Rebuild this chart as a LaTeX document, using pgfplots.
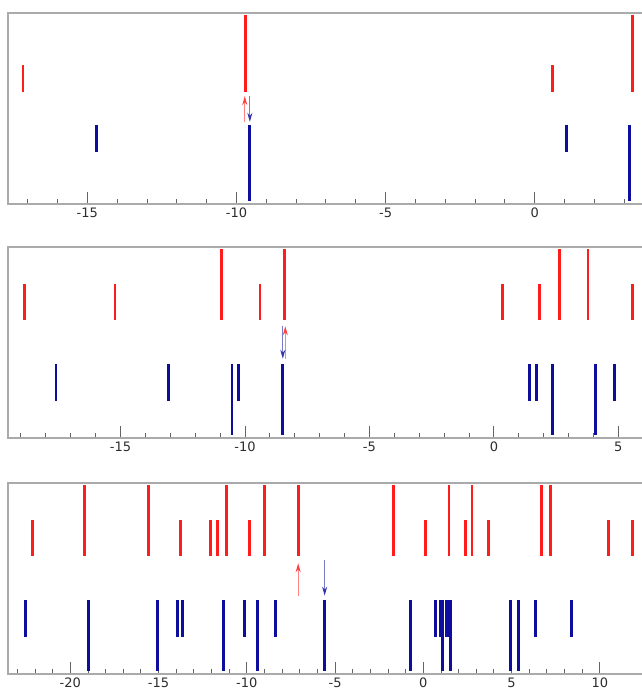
\documentclass[border=0pt]{standalone}
\usepackage{pgfplots}
\pgfplotsset{compat=1.18}
\usepackage{fontspec}
\setmainfont{DejaVu Sans}
\usetikzlibrary{arrows.meta}
\definecolor{barred}{RGB}{255,28,28}
\definecolor{barblue}{RGB}{14,14,158}
\definecolor{framegray}{RGB}{170,170,170}
\definecolor{tickgray}{RGB}{100,100,100}
\definecolor{labgray}{RGB}{45,45,45}
\pgfplotsset{
 panel/.style={
  scale only axis, width=634pt, height=191pt,
  ymin=0, ymax=1, ytick=\empty,
  axis line style={draw=none},
  xtick distance=5, minor x tick num=4,
  tick align=inside, xtick pos=bottom,
  major tick length=12pt, minor tick length=5pt,
  every tick/.style={tickgray, line width=0.9pt},
  tick label style={font=\fontsize{13}{15}\selectfont, text=labgray},
  /pgf/number format/assume math mode=true,
  clip=false,
 },
 vbar/.style={line width=2.8pt, -, quiver={u=0, v=\thisrow{y1}-\thisrow{y0}}},
 uparrow/.style={barred!55, line width=1.2pt, -{Stealth[length=9pt,width=5pt,color=barred!85]}, quiver={u=0, v=\thisrow{y1}-\thisrow{y0}}},
 downarrow/.style={barblue!55, line width=1.2pt, -{Stealth[length=9pt,width=5pt,color=barblue!85]}, quiver={u=0, v=\thisrow{y1}-\thisrow{y0}}},
}
\newcommand{\frameit}{\draw[framegray, line width=1.8pt] (rel axis cs:1,1) -- (rel axis cs:0,1) -- (rel axis cs:0,0) -- (rel axis cs:1,0);}
\begin{document}
\begin{tikzpicture}
\useasboundingbox (0,0) rectangle (642pt,691pt);
% ---------------- panel 1
\begin{axis}[panel, at={(8pt,487pt)}, anchor=south west, xmin=-17.66, xmax=3.6]
\frameit
\addplot[barred, vbar] table[x=x, y=y0] {
x y0 y1
-17.16 0.584 0.726
-9.70 0.584 0.988
0.59 0.584 0.726
3.27 0.584 0.988
};
\addplot[barblue, vbar] table[x=x, y=y0] {
x y0 y1
-14.68 0.414 0.271
-9.55 0.414 0.014
1.08 0.414 0.271
3.17 0.414 0.014
};
\addplot[uparrow] table[x=x, y=y0] {
x y0 y1
-9.72 0.43 0.565
};
\addplot[downarrow] table[x=x, y=y0] {
x y0 y1
-9.55 0.565 0.43
};
\end{axis}
% ---------------- panel 2
\begin{axis}[panel, at={(8pt,253pt)}, anchor=south west, xmin=-19.52, xmax=5.95]
\frameit
\addplot[barred, vbar] table[x=x, y=y0] {
x y0 y1
-18.85 0.618 0.808
-15.22 0.618 0.808
-10.93 0.618 0.988
-9.40 0.618 0.808
-8.40 0.618 0.988
0.35 0.618 0.808
1.84 0.618 0.808
2.62 0.618 0.988
3.78 0.618 0.988
5.56 0.618 0.808
};
\addplot[barblue, vbar] table[x=x, y=y0] {
x y0 y1
-17.59 0.387 0.193
-13.07 0.387 0.193
-10.52 0.387 0.016
-10.27 0.387 0.193
-8.48 0.387 0.016
1.43 0.387 0.193
1.70 0.387 0.193
2.37 0.387 0.016
4.08 0.387 0.016
4.84 0.387 0.193
};
\addplot[uparrow] table[x=x, y=y0] {
x y0 y1
-8.38 0.415 0.585
};
\addplot[downarrow] table[x=x, y=y0] {
x y0 y1
-8.48 0.585 0.415
};
\end{axis}
% ---------------- panel 3
\begin{axis}[panel, at={(8pt,17pt)}, anchor=south west, xmin=-23.53, xmax=12.39]
\frameit
\addplot[barred, vbar] table[x=x, y=y0] {
x y0 y1
-22.15 0.618 0.808
-19.18 0.618 0.988
-15.58 0.618 0.988
-13.77 0.618 0.808
-12.06 0.618 0.808
-11.66 0.618 0.808
-11.13 0.618 0.988
-9.83 0.618 0.808
-9.02 0.618 0.988
-7.09 0.618 0.988
-1.69 0.618 0.988
0.12 0.618 0.808
1.46 0.618 0.988
2.41 0.618 0.808
2.76 0.618 0.988
3.71 0.618 0.808
6.70 0.618 0.988
7.22 0.618 0.988
10.49 0.618 0.808
11.85 0.618 0.808
};
\addplot[barblue, vbar] table[x=x, y=y0] {
x y0 y1
-22.56 0.387 0.193
-18.97 0.387 0.016
-15.07 0.387 0.016
-13.91 0.387 0.193
-13.63 0.387 0.193
-11.31 0.387 0.016
-10.13 0.387 0.193
-9.41 0.387 0.016
-8.39 0.387 0.193
-5.59 0.387 0.016
-0.74 0.387 0.016
0.68 0.387 0.193
0.97 0.387 0.193
1.09 0.387 0.016
1.30 0.387 0.193
1.40 0.387 0.193
1.52 0.387 0.016
4.92 0.387 0.016
5.41 0.387 0.016
6.34 0.387 0.193
8.38 0.387 0.193
};
\addplot[uparrow] table[x=x, y=y0] {
x y0 y1
-7.09 0.41 0.58
};
\addplot[downarrow] table[x=x, y=y0] {
x y0 y1
-5.59 0.595 0.41
};
\end{axis}
\end{tikzpicture}
\end{document}
